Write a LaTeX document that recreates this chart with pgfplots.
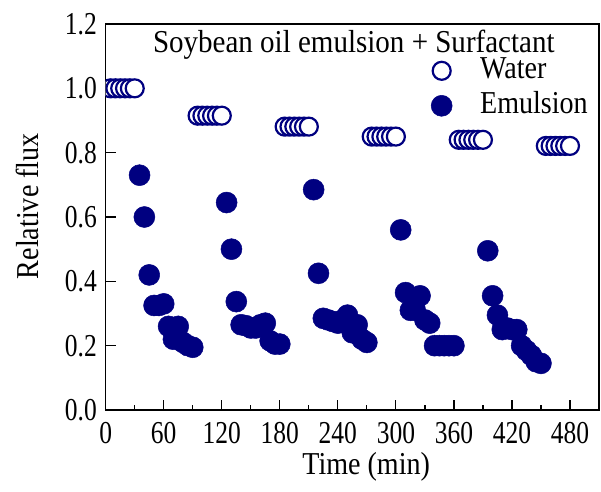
\documentclass[border=0pt]{standalone}
\usepackage{fontspec}
\setmainfont{Liberation Serif}[FakeStretch=0.88]
\newfontfamily\titlefont{Liberation Serif}[FakeStretch=0.91]
\newfontfamily\tickfont{Liberation Serif}[FakeStretch=0.8]
\usepackage{pgfplots}
\pgfplotsset{compat=1.18}
\definecolor{navy}{RGB}{0,0,128}
\begin{document}
\begin{tikzpicture}
\begin{axis}[name=ax, scale only axis, width=493.3bp, height=386bp,
  xmin=0, xmax=510, ymin=0, ymax=1.2,
  xtick={0,60,120,180,240,300,360,420,480},
  minor xtick={30,90,150,210,270,330,390,450,510},
  ytick={0,0.2,0.4,0.6,0.8,1.0,1.2},
  tick pos=left, tick align=inside,
  major tick length=10bp, minor tick length=5bp,
  axis line style={line width=1.2bp},
  every tick/.style={line width=1.2bp, black},
  /pgf/number format/assume math mode=true,
  yticklabel style={/pgf/number format/fixed, /pgf/number format/fixed zerofill, /pgf/number format/precision=1, inner sep=0pt, anchor=east, xshift=-8.7bp},
  xticklabel style={anchor=base, yshift=-33.4bp, inner sep=0pt},
  tick label style={font=\tickfont\fontsize{32}{38}\selectfont},
  xlabel={Time (min)}, ylabel={Relative flux},
  label style={font=\fontsize{32}{38}\selectfont},
  xlabel style={at={(axis description cs:0.528,0)}, anchor=base, yshift=-64bp, inner sep=0pt},
  ylabel style={at={(axis description cs:-0.1595,0.528)}, anchor=center, inner sep=0pt},
  clip marker paths=true,
  legend style={draw=none, fill=none, inner sep=0pt, at={(axis description cs:0.6594,0.922)}, anchor=north west,
    font=\fontsize{32}{38}\selectfont, row sep=2bp,
    nodes={inner sep=2bp, text height=22bp, text depth=7bp},
    /tikz/every odd column/.append style={column sep=26bp}},
  legend cell align=left,
]
\addplot[only marks, mark=*, mark size=9bp, mark options={fill=white, draw=navy, line width=2.2bp}] coordinates {
(5,1.0) (10,1.0) (15,1.0) (20,1.0) (25,1.0) (30,1.0)
(95,0.915) (100,0.915) (105,0.915) (110,0.915) (115,0.915) (120,0.915)
(185,0.881) (190,0.881) (195,0.881) (200,0.881) (205,0.881) (210,0.881)
(275,0.850) (280,0.850) (285,0.850) (290,0.850) (295,0.850) (300,0.850)
(365,0.840) (370,0.840) (375,0.840) (380,0.840) (385,0.840) (390,0.840)
(455,0.821) (460,0.821) (465,0.821) (470,0.821) (475,0.821) (480,0.821)
};
\addlegendentry{Water}
\addplot[only marks, mark=*, mark size=10.5bp, mark options={fill=navy, draw=navy, line width=0.5bp}] coordinates {
(35,0.73) (40,0.60) (45,0.42) (50,0.325) (55,0.325) (60,0.33) (65,0.26) (70,0.22) (75,0.26) (80,0.21) (85,0.20) (90,0.195)
(125,0.645) (130,0.50) (135,0.337) (140,0.265) (145,0.262) (150,0.255) (155,0.255) (160,0.265) (165,0.27) (170,0.215) (175,0.205) (180,0.205)
(215,0.685) (220,0.425) (225,0.285) (230,0.28) (235,0.275) (240,0.27) (245,0.28) (250,0.295) (255,0.24) (260,0.265) (265,0.22) (270,0.21)
(305,0.56) (310,0.365) (315,0.31) (320,0.31) (325,0.355) (330,0.28) (335,0.27) (340,0.20) (345,0.20) (350,0.20) (355,0.20) (360,0.20)
(395,0.495) (400,0.355) (405,0.295) (410,0.25) (415,0.255) (420,0.25) (425,0.25) (430,0.20) (435,0.185) (440,0.17) (445,0.15) (450,0.145)
};
\addlegendentry{Emulsion}
\node[font=\titlefont\fontsize{32}{38}\selectfont, anchor=base, inner sep=0pt] at (rel axis cs:0.503,0.927) {Soybean oil emulsion + Surfactant};
\end{axis}
\pgfresetboundingbox
\path ([shift={(-105.7bp,-81bp)}]ax.south west) rectangle ([shift={(2bp,24bp)}]ax.north east);
\end{tikzpicture}
\end{document}
